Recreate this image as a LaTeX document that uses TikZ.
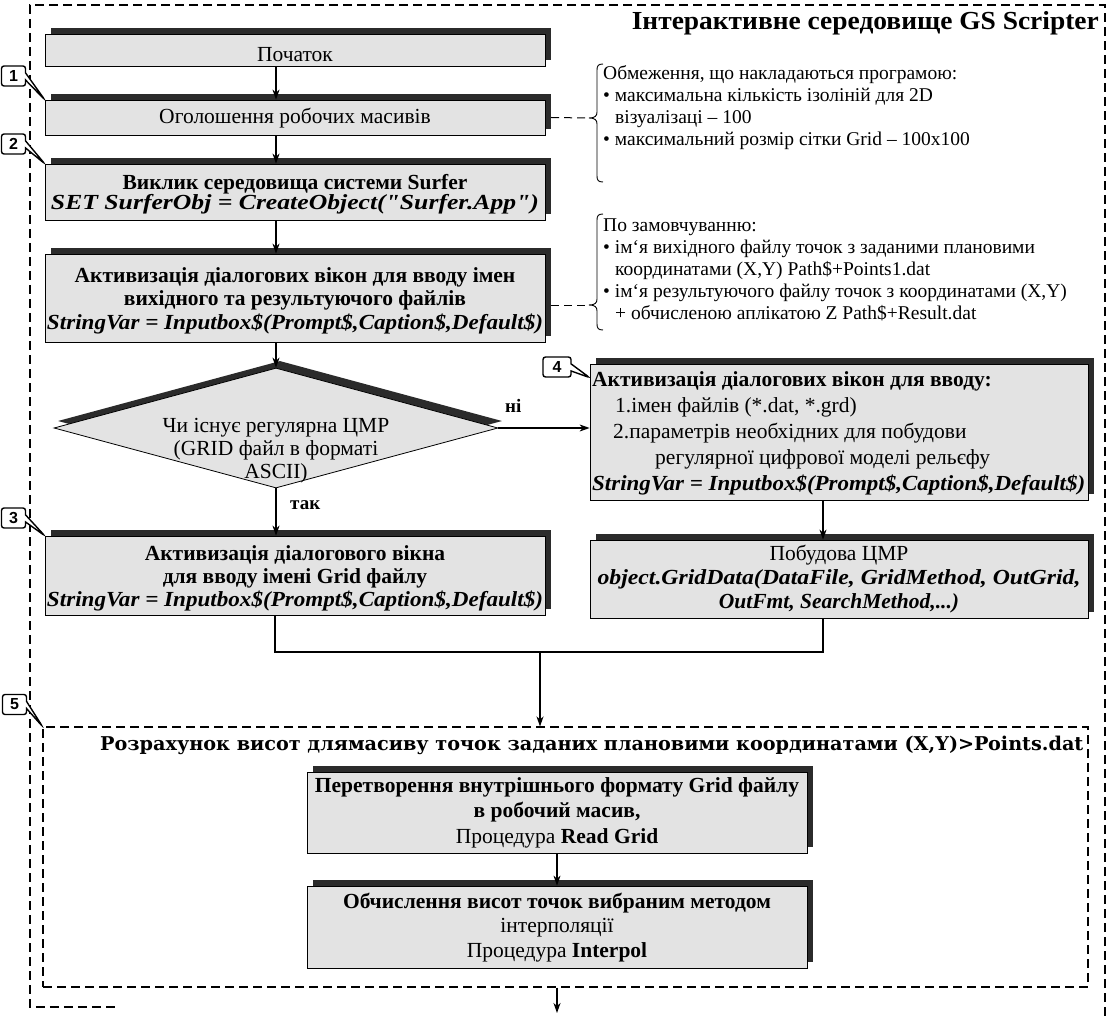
\documentclass[tikz,border=0pt]{standalone}
\usepackage{fontspec}
\usepackage{graphicx}
\setmainfont{Liberation Serif}
\newfontfamily\lblfont{Liberation Sans}
\newfontfamily\sectfont{DejaVu Serif}
\usetikzlibrary{arrows.meta,shapes.geometric,shapes.callouts}
\definecolor{boxfill}{HTML}{E3E3E3}
\definecolor{shad}{HTML}{2B2B2B}
\newcommand\mf[1]{\fontsize{21.5}{#1}\selectfont}
\newcommand\bi[2]{\resizebox{#1pt}{\height}{\bfseries\itshape #2}}
\tikzset{
 box/.style={draw=black, line width=0.8pt, fill=boxfill, inner sep=0pt, rectangle},
 shbox/.style={fill=shad, draw=none, inner sep=0pt, rectangle},
 txt/.style={inner sep=0pt, align=center, font=\mf{24}},
 arr/.style={line width=1.2pt, -{Stealth[length=10pt,width=7pt,inset=3pt]}},
 conn/.style={line width=1.2pt},
 dashconn/.style={line width=1pt, dash pattern=on 8pt off 5pt},
 outer/.style={line width=1.3pt, dash pattern=on 9pt off 5pt},
 subframe/.style={draw=black, line width=1.1pt, dash pattern=on 9pt off 5pt, inner sep=0pt, rectangle},
 bracel/.style={line width=0.9pt},
 lbl/.style={rectangle callout, draw=black, line width=1.4pt, rounded corners=2.5pt, fill=white, inner sep=0pt, minimum width=24pt, minimum height=20pt, font=\lblfont\bfseries\fontsize{16}{16}\selectfont},
 note/.style={inner sep=0pt, align=left, anchor=west, font=\fontsize{19.5}{22}\selectfont},
 yesno/.style={inner sep=0pt, anchor=west, font=\bfseries\fontsize{19}{19}\selectfont},
}
\newcommand\flowbox[5]{%
 \node[shbox, minimum width=#4pt, minimum height=#5pt] (#1sh) at ([shift={(6pt,6pt)}]#2,#3) {};
 \node[box, minimum width=#4pt, minimum height=#5pt] (#1) at (#2,#3) {};}
\begin{document}
\begin{tikzpicture}[x=1pt,y=-1pt]
\fill[white] (0,0) rectangle (1113,1016);
\useasboundingbox (0,0) rectangle (1113,1016);
% outer frame
\draw[outer] (1105,1016) -- (1105,5) -- (30,5) -- (30,1007) -- (118,1007);
\node[anchor=east, inner sep=0pt] (title) at (1099,23) {\resizebox{467pt}{\height}{\bfseries\fontsize{26}{26}\selectfont Інтерактивне середовище GS Scripter}};

% boxes
\flowbox{b1}{295}{50}{500}{32}
\flowbox{b2}{295}{117.5}{500}{35}
\flowbox{b3}{295}{192}{500}{56}
\flowbox{b4}{295}{298}{500}{88}
\flowbox{b5}{295}{575.5}{500}{79}
\flowbox{b6}{839}{432}{498}{136}
\flowbox{b7}{839}{579}{498}{78}
\flowbox{b8}{557}{812.5}{500}{81}
\flowbox{b9}{557}{927}{500}{82}

% decision
\node[diamond, fill=shad, minimum width=444pt, minimum height=120pt, inner sep=0pt] (decsh) at ([shift={(4pt,7pt)}]276,428) {};
\node[diamond, draw=black, line width=0.8pt, fill=boxfill, minimum width=444pt, minimum height=120pt, inner sep=0pt] (dec) at (276,428) {};

% sub-process frame
\node[subframe, minimum width=1045pt, minimum height=260pt] (sub) at (565.5,857) {};
\node[anchor=west, inner sep=0pt] (subt) at (100,745) {\resizebox{983pt}{\height}{\sectfont\bfseries\fontsize{19}{19}\selectfont Розрахунок висот длямасиву точок заданих плановими координатами (X,Y)>Points.dat}};

% texts
\node[txt] (t1) at (295,55) {Початок};
\node[txt] (t2) at (295,118) {Оголошення робочих масивів};
\node[txt, font=\bfseries\mf{20}] (t3) at (295,194.5) {Виклик середовища системи Surfer\\\bi{488}{SET SurferObj = CreateObject(\textquotedbl Surfer.App\textquotedbl)}};
\node[txt, font=\bfseries\mf{23.5}] (t4) at (295,300.5) {Активизація діалогових вікон для вводу імен\\вихідного та результуючого файлів\\\bi{496}{StringVar = Inputbox\$(Prompt\$,Caption\$,Default\$)}};
\node[txt, font=\mf{23}] (dect) at (276,451) {Чи існує регулярна ЦМР\\(GRID файл в форматі\\ASCII)};
\node[txt, font=\bfseries\mf{23}] (t5) at (295,578) {Активизація діалогового вікна\\для вводу імені Grid файлу\\\bi{496}{StringVar = Inputbox\$(Prompt\$,Caption\$,Default\$)}};
\node[txt, align=left, anchor=west, font=\mf{26}] (t6) at (592,433) {\textbf{Активизація діалогових вікон для вводу:}\\\hspace*{23pt}1.імен файлів (*.dat, *.grd)\\\hspace*{21pt}2.параметрів необхідних для побудови\\\hspace*{63pt}регулярної цифрової моделі рельєфу\\\bi{493}{StringVar = Inputbox\$(Prompt\$,Caption\$,Default\$)}};
\node[txt, font=\mf{24}] (t7) at (839,579) {Побудова ЦМР\\\bi{483}{object.GridData(DataFile, GridMethod, OutGrid,}\\\textbf{\textit{OutFmt, SearchMethod,...)}}};
\node[txt, font=\mf{25.5}] (t8) at (557,812.5) {\textbf{Перетворення внутрішнього формату Grid файлу}\\\textbf{в робочий масив,}\\Процедура \textbf{Read Grid}};
\node[txt, font=\mf{24.5}] (t9) at (557,927.5) {\textbf{Обчислення висот точок вибраним методом}\\інтерполяції\\Процедура \textbf{Interpol}};

\node[yesno] (yes) at (290,505) {так};
\node[yesno] (no) at (505,406) {ні};

% annotations
\coordinate (br1) at (589,118);
\coordinate (br2) at (589,305);
\draw[bracel] (603,64) .. controls (598,64) and (597,66) .. (597,70) -- (597,112) .. controls (597,116) and (595,118) .. (br1) .. controls (595,118) and (597,120) .. (597,124) -- (597,176) .. controls (597,180) and (598,182) .. (603,182);
\draw[bracel] (603,214) .. controls (598,214) and (597,216) .. (597,220) -- (597,299) .. controls (597,303) and (595,305) .. (br2) .. controls (595,305) and (597,307) .. (597,311) -- (597,324) .. controls (597,328) and (598,330) .. (603,330);
\draw[dashconn] (b2sh.east |- b2.east) -- (br1);
\draw[dashconn] (b4sh.east |- br2) -- (br2);
\node[note] (n1) at (603,107.5) {Обмеження, що накладаються програмою:\\• максимальна кількість ізоліній для 2D\\\hspace*{12pt}візуалізаці – 100\\• максимальний розмір сітки Grid – 100x100};
\node[note] (n2) at (603,270) {По замовчуванню:\\• ім`я вихідного файлу точок з заданими плановими\\\hspace*{12pt}координатами (X,Y) Path\$+Points1.dat\\• ім`я результуючого файлу точок з координатами (X,Y)\\\hspace*{12pt}+ обчисленою аплікатою Z Path\$+Result.dat};

% connectors
\draw[arr] (b1.south -| dec.north) -- (b2.north -| dec.north);
\draw[arr] (b2.south -| dec.north) -- (b3.north -| dec.north);
\draw[arr] (b3.south -| dec.north) -- (b4.north -| dec.north);
\draw[arr] (b4.south -| dec.north) -- (dec.north);
\draw[arr] (dec.south) -- (b5.north -| dec.south);
\draw[arr] (dec.east) -- (dec.east -| b6.west);
\coordinate (rc) at (823,652);
\coordinate (lc) at (275,652);
\coordinate (jc) at (540,652);
\draw[arr] (b6.south -| rc) -- (b7.north -| rc);
\draw[conn] (b5.south -| lc) -- (lc) -- (rc) -- (b7.south -| rc);
\draw[arr] (jc) -- (jc |- sub.north);
\draw[arr] (b8.south) -- (b9.north);
\coordinate (exitpt) at (557,1013);
\draw[arr] (sub.south -| b9.south) -- (exitpt);

% labels
\node[lbl, callout absolute pointer={(b2.north west)}] (l1) at (13.5,76) {1};
\node[lbl, callout absolute pointer={(b3.north west)}] (l2) at (13.5,144) {2};
\node[lbl, callout absolute pointer={(b5.north west)}] (l3) at (13.5,518) {3};
\node[lbl, minimum width=28pt, callout absolute pointer={([yshift=-14pt]b6.north west)}] (l4) at (557,367) {4};
\node[lbl, callout absolute pointer={(sub.north west)}] (l5) at (14.5,704.5) {5};
\end{tikzpicture}
\end{document}
